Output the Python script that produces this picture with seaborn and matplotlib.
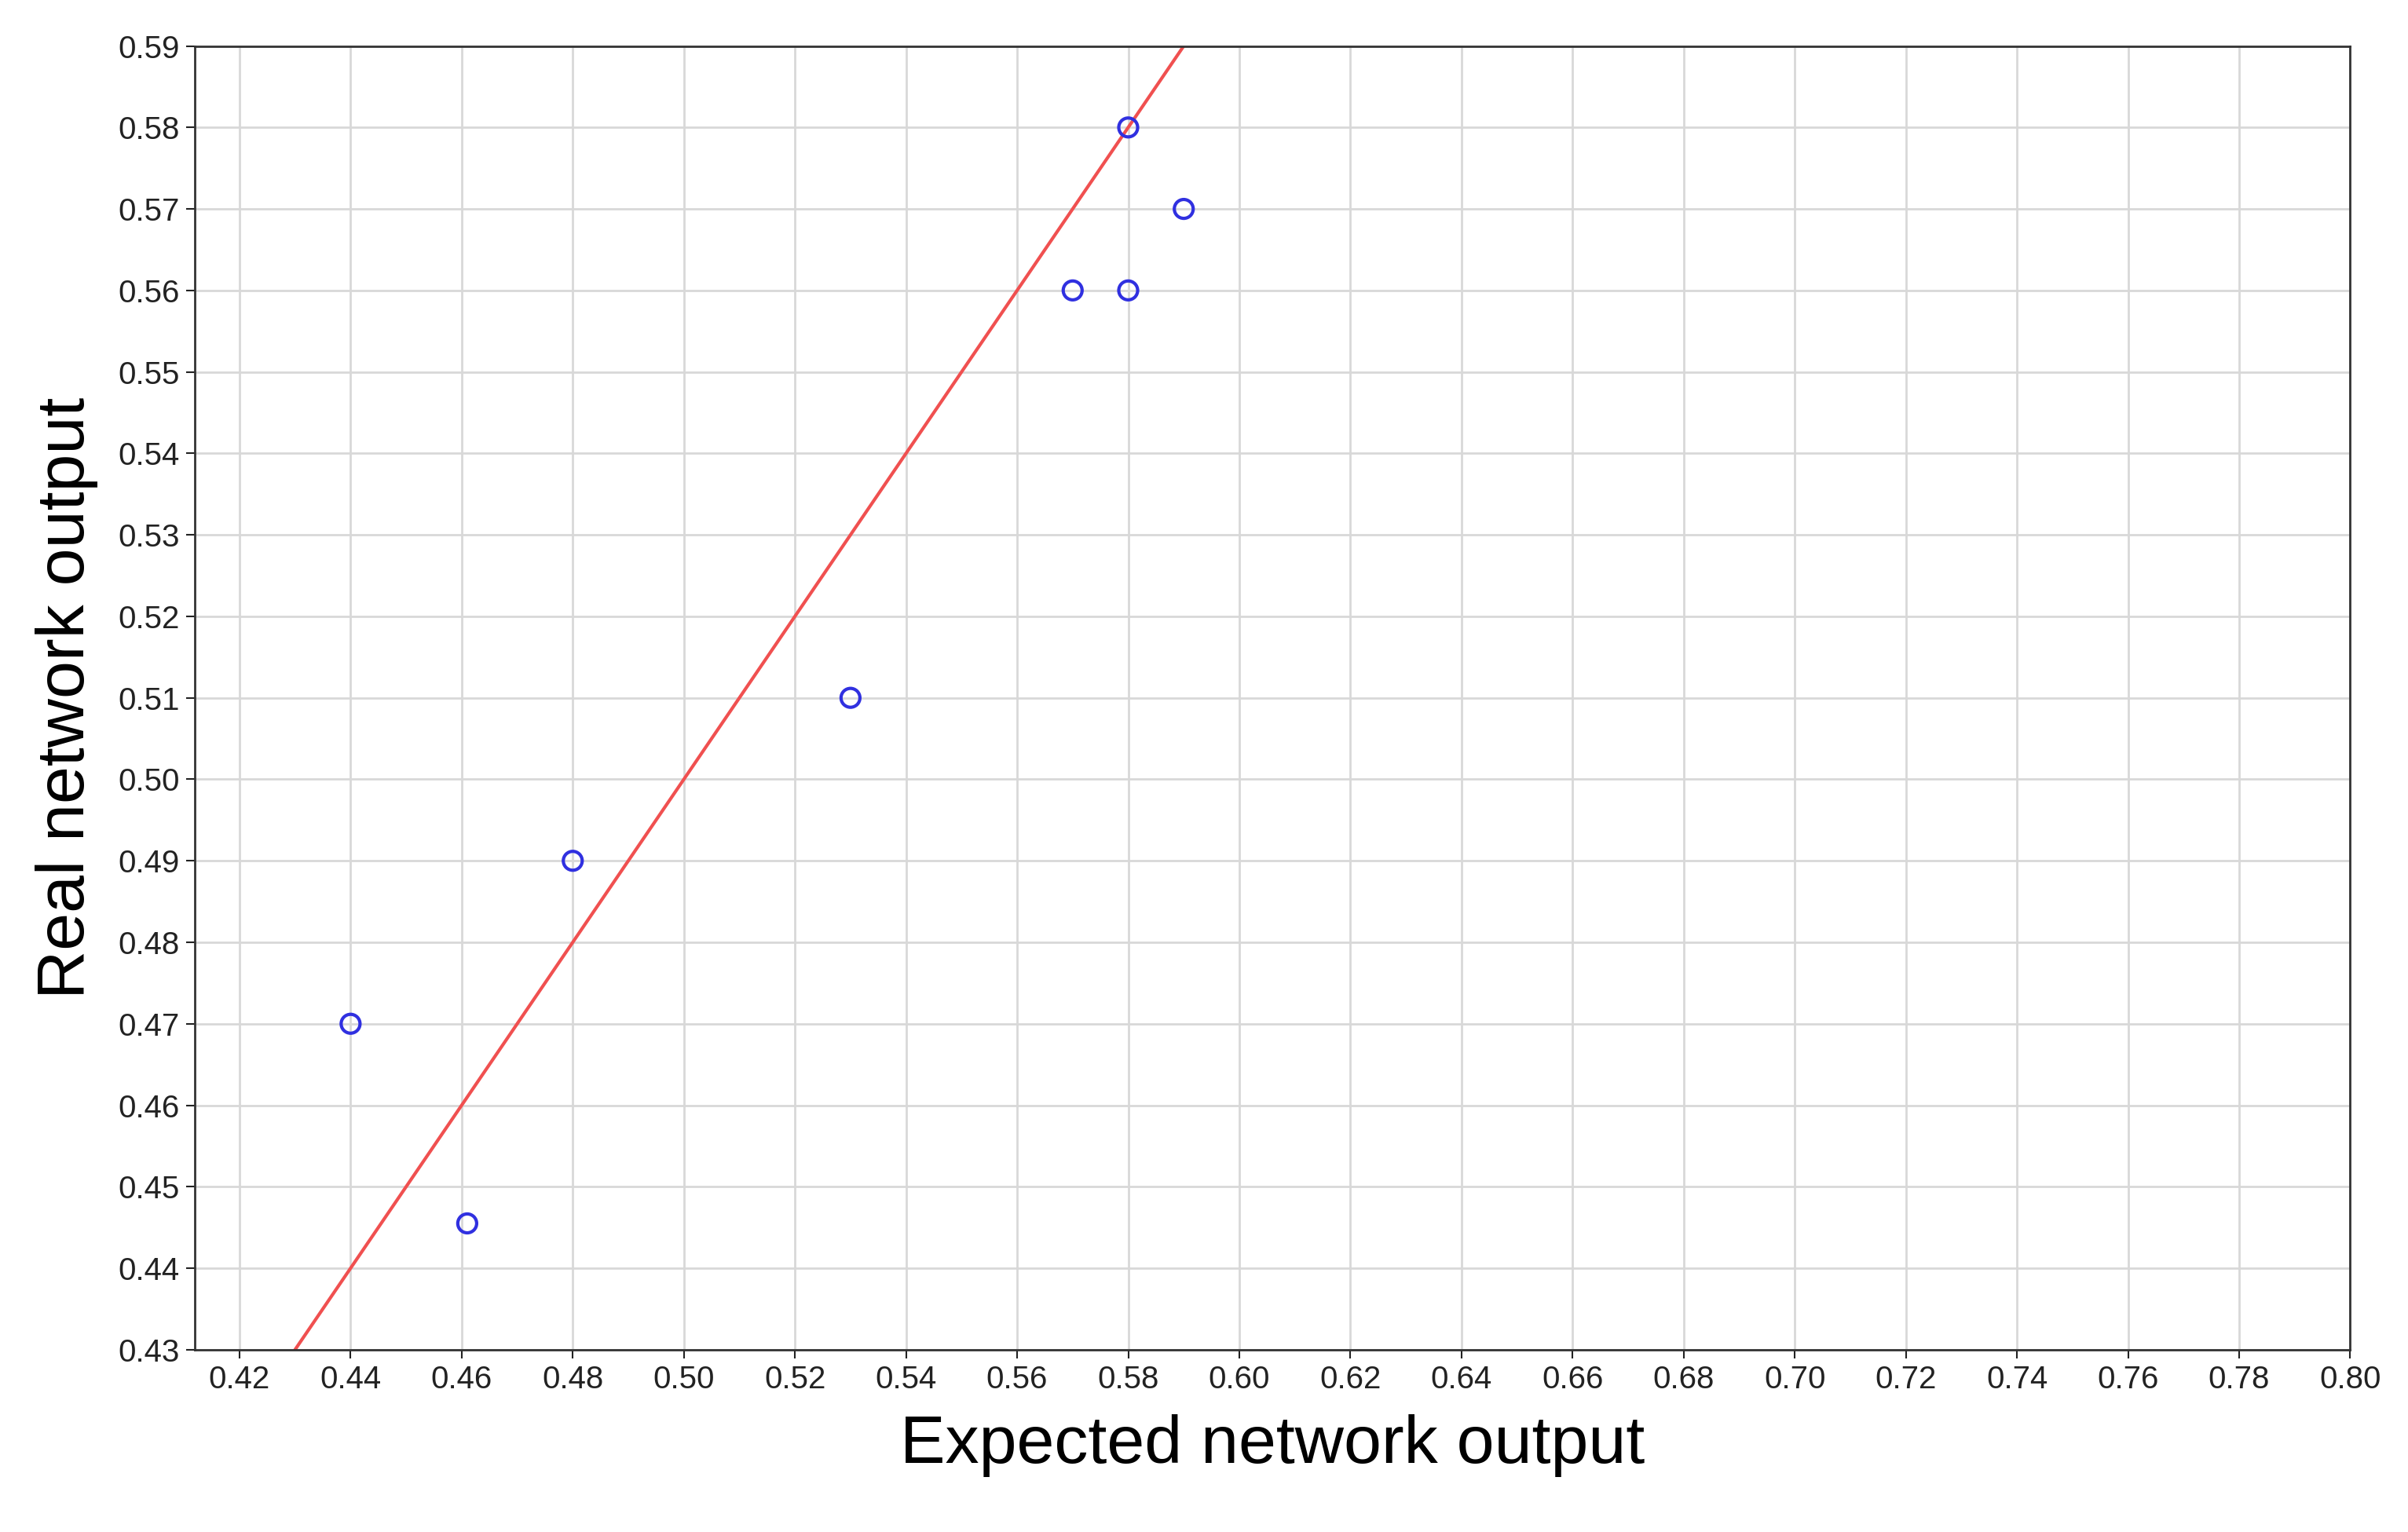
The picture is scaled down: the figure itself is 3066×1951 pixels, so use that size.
import matplotlib
matplotlib.use("Agg")
import matplotlib.pyplot as plt
import seaborn as sns
import numpy as np
import pandas as pd

expected = [0.44, 0.461, 0.48, 0.53, 0.57, 0.58, 0.58, 0.59]
real = [0.47, 0.4455, 0.49, 0.51, 0.56, 0.56, 0.58, 0.57]
line_x = [0.43, 0.59]
line_y = [0.43, 0.59]
xticks = np.round(np.arange(0.42, 0.801, 0.02), 2)
yticks = np.round(np.arange(0.43, 0.591, 0.01), 2)

sns.set_theme(style="white")
plt.rcParams['font.family'] = ['Liberation Sans', 'DejaVu Sans']

fig = plt.figure(figsize=(30.66, 19.51), dpi=100)
ax = fig.add_axes([0.081, 0.119, 0.895, 0.851])
df = pd.DataFrame({"x": expected, "y": real})
sns.lineplot(x=line_x, y=line_y, ax=ax, color="#f05050", linewidth=3)
sns.scatterplot(data=df, x="x", y="y", ax=ax, marker="o", s=300,
                facecolors="none", edgecolor="#3030e0", linewidth=3, zorder=5)
ax.set_xlim(0.412, 0.80)
ax.set_ylim(0.43, 0.59)
ax.set_xticks(xticks)
ax.set_yticks(yticks)
ax.set_xticklabels([f"{v:.2f}" for v in xticks])
ax.set_yticklabels([f"{v:.2f}" for v in yticks])
ax.grid(True, color="#d8d8d8", linewidth=2)
ax.tick_params(labelsize=29, length=8, width=1.5, direction="out", colors="#222222",
               bottom=True, left=True, pad=6)
for s in ax.spines.values():
    s.set_color("#333333")
    s.set_linewidth(2)
ax.set_xlabel("Expected network output", fontsize=62, labelpad=18, color="black")
ax.set_ylabel("Real network output", fontsize=62, labelpad=18, color="black")
fig.savefig("out.png", dpi=100, facecolor="white")
